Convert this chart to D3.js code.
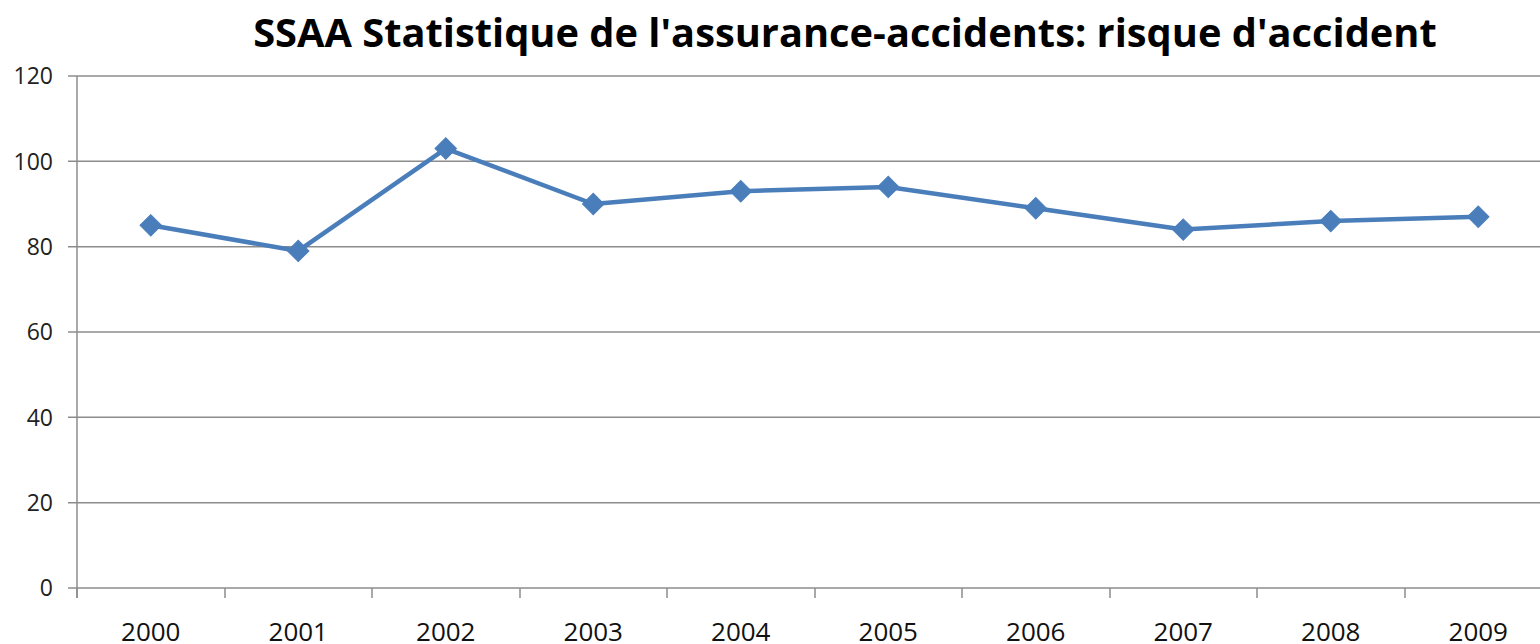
<!DOCTYPE html>
<html>
<head>
<meta charset="utf-8">
<script src="https://cdn.jsdelivr.net/npm/d3@7"></script>
<style>
  body { margin: 0; background: #fff; }
  svg { display: block; font-family: "Open Sans", "Liberation Sans", sans-serif; }
</style>
</head>
<body>
<svg width="1540" height="644"></svg>
<script>
var title = "SSAA Statistique de l'assurance-accidents: risque d'accident";
var years = ["2000", "2001", "2002", "2003", "2004", "2005", "2006", "2007", "2008", "2009"];
var values = [85, 79, 103, 90, 93, 94, 89, 84, 86, 87];
var yTicks = [0, 20, 40, 60, 80, 100, 120];

var width = 1540, height = 644;
var margin = {top: 76, left: 77, bottom: 56};
var plotW = 1475; // the chart continues past the right edge of the picture

var svg = d3.select("svg");

var x = d3.scaleBand().domain(years).range([margin.left, margin.left + plotW]);
var y = d3.scaleLinear().domain([0, 120]).range([height - margin.bottom, margin.top]);

// horizontal grid lines
svg.append("g")
    .selectAll("line")
    .data(yTicks)
    .join("line")
    .attr("x1", margin.left - 9)
    .attr("x2", width)
    .attr("y1", function(d) { return y(d); })
    .attr("y2", function(d) { return y(d); })
    .style("stroke", "#8c8c8c")
    .style("stroke-width", 1.5);

// y axis line
svg.append("line")
    .attr("x1", margin.left).attr("x2", margin.left)
    .attr("y1", y(120)).attr("y2", y(0) + 10)
    .style("stroke", "#8c8c8c")
    .style("stroke-width", 1.5);

// y labels
svg.append("g")
    .selectAll("text")
    .data(yTicks)
    .join("text")
    .attr("x", 53)
    .attr("y", function(d) { return y(d); })
    .attr("dy", "0.36em")
    .attr("text-anchor", "end")
    .style("font-size", "23px")
    .style("fill", "#222")
    .text(function(d) { return d; });

// x labels
var xAxis = d3.axisBottom(x).tickSize(0).tickPadding(0);
var gx = svg.append("g")
    .attr("transform", "translate(0," + y(0) + ")")
    .call(xAxis);
gx.select(".domain").remove();
gx.selectAll("text")
    .attr("dy", null)
    .attr("y", 53)
    .style("font-family", "\"Open Sans\", \"Liberation Sans\", sans-serif")
    .style("font-size", "26px")
    .style("fill", "#111");

// tick marks at category boundaries
svg.append("g")
    .selectAll("line")
    .data(years)
    .join("line")
    .attr("x1", function(d) { return Math.round(x(d)); })
    .attr("x2", function(d) { return Math.round(x(d)); })
    .attr("y1", y(0))
    .attr("y2", y(0) + 10)
    .style("stroke", "#8c8c8c")
    .style("stroke-width", 1.5);

// series line
var cx = function(d, i) { return x(years[i]) + x.bandwidth() / 2; };
var line = d3.line()
    .x(cx)
    .y(function(d) { return y(d); });

svg.append("path")
    .datum(values)
    .attr("d", line)
    .style("fill", "none")
    .style("stroke", "#4a7ebb")
    .style("stroke-width", 4.5)
    .style("stroke-linejoin", "round");

// diamond markers
var diamond = d3.symbol().type(d3.symbolSquare).size(230);
svg.append("g")
    .selectAll("path")
    .data(values)
    .join("path")
    .attr("d", diamond)
    .attr("transform", function(d, i) {
        return "translate(" + cx(d, i) + "," + y(d) + ") rotate(45)";
    })
    .style("fill", "#4a7ebb")
    .style("stroke", "#4a7ebb")
    .style("stroke-width", 1);

// title
var t = svg.append("text")
    .attr("x", 845)
    .attr("y", 47)
    .attr("text-anchor", "middle")
    .style("font-weight", "bold")
    .style("font-size", "40px")
    .style("fill", "#000")
    .text(title);
var tw = t.node().getComputedTextLength();
t.style("font-size", (40 * 1184 / tw) + "px");
</script>
</body>
</html>
